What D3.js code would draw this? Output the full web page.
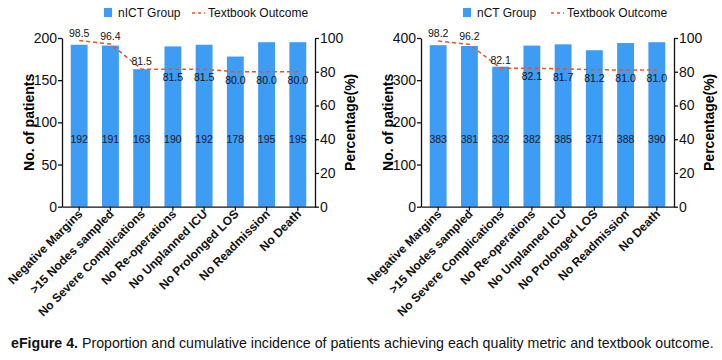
<!DOCTYPE html>
<html>
<head>
<meta charset="utf-8">
<script src="https://cdn.jsdelivr.net/npm/d3@7"></script>
<style>
  body { margin: 0; background: #fff; }
  svg { font-family: "Liberation Sans", Arial, sans-serif; }
</style>
</head>
<body>
<div class="chart"></div>
<script>
// data
var metrics = ["Negative Margins", ">15 Nodes sampled", "No Severe Complications",
  "No Re-operations", "No Unplanned ICU", "No Prolonged LOS", "No Readmission", "No Death"];

var nictCounts = [192, 191, 163, 190, 192, 178, 195, 195];
var nictPct = [98.5, 96.4, 81.5, 81.5, 81.5, 80.0, 80.0, 80.0];

var nctCounts = [383, 381, 332, 382, 385, 371, 388, 390];
var nctPct = [98.2, 96.2, 82.1, 82.1, 81.7, 81.2, 81.0, 81.0];

var countTicksLeft = [0, 50, 100, 150, 200];
var countTicksRight = [0, 100, 200, 300, 400];
var pctTicks = [0, 20, 40, 60, 80, 100];

var width = 722, height = 360;
var barColor = "#3d9cf4", lineColor = "#f0502a";

var svg = d3.select(".chart")
  .append("svg")
    .attr("width", width)
    .attr("height", height);

// one panel
function drawPanel(left, counts, pcts, countTicks, groupName) {
  var w = 253, top = 38, h = 168.7;
  var g = svg.append("g")
    .attr("transform", "translate(" + left + "," + top + ")");

  var x = d3.scaleBand()
    .domain(metrics)
    .range([0, w])
    .paddingInner(0.46)
    .paddingOuter(0.28);
  var y = d3.scaleLinear()
    .domain([0, d3.max(countTicks)])
    .range([h, 0]);
  var yP = d3.scaleLinear()
    .domain([0, 100])
    .range([h, 0]);

  // bars
  g.selectAll(".bar")
    .data(counts)
    .enter()
    .append("rect")
      .attr("class", "bar")
      .attr("x", function(d, i){ return x(metrics[i]); })
      .attr("width", x.bandwidth())
      .attr("y", function(d){ return y(d); })
      .attr("height", function(d){ return h - y(d); })
      .attr("fill", barColor);

  // count labels inside bars
  g.selectAll(".clab")
    .data(counts)
    .enter()
    .append("text")
      .attr("x", function(d, i){ return x(metrics[i]) + x.bandwidth() / 2; })
      .attr("y", yP(40) + 4)
      .attr("text-anchor", "middle")
      .attr("font-size", "10.5px")
      .attr("fill", "#1a1a2e")
      .text(function(d){ return d; });

  // percentage line
  var line = d3.line()
    .x(function(d, i){ return x(metrics[i]) + x.bandwidth() / 2; })
    .y(function(d){ return yP(d); });
  g.append("path")
    .datum(pcts)
    .attr("d", line)
    .attr("fill", "none")
    .attr("stroke", lineColor)
    .attr("stroke-width", 1.5)
    .attr("stroke-dasharray", "4,3");

  g.selectAll(".plab")
    .data(pcts)
    .enter()
    .append("text")
      .attr("x", function(d, i){ return x(metrics[i]) + x.bandwidth() / 2; })
      .attr("y", function(d, i){ return i < 3 ? yP(d) - 4 : yP(d) + 12; })
      .attr("text-anchor", "middle")
      .attr("font-size", "10.5px")
      .attr("fill", "#111")
      .text(function(d){ return d.toFixed(1); });

  // axes
  var xAxis = g.append("g")
    .attr("transform", "translate(0," + h + ")")
    .call(d3.axisBottom(x).tickSize(4).tickSizeOuter(0));
  xAxis.selectAll("text")
    .attr("font-size", "12px")
    .attr("font-weight", "bold")
    .attr("fill", "#111")
    .attr("text-anchor", "end")
    .attr("x", 0)
    .attr("y", 0)
    .attr("dy", 0)
    .attr("transform", "translate(4,8) rotate(-45)");

  var yAxis = g.append("g")
    .call(d3.axisLeft(y).tickValues(countTicks).tickSize(4).tickPadding(1).tickSizeOuter(0));
  yAxis.selectAll("text").attr("font-size", "14px").attr("fill", "#111");

  var yAxisR = g.append("g")
    .attr("transform", "translate(" + w + ",0)")
    .call(d3.axisRight(yP).tickValues(pctTicks).tickSize(4).tickPadding(1).tickSizeOuter(0));
  yAxisR.selectAll("text").attr("font-size", "14px").attr("fill", "#111");

  [xAxis, yAxis, yAxisR].forEach(function(a){
    a.selectAll("path, line").attr("stroke", "#111").attr("stroke-width", 1.3);
  });

  // axis titles
  g.append("text")
    .attr("transform", "rotate(-90)")
    .attr("x", -h / 2)
    .attr("y", -28)
    .attr("text-anchor", "middle")
    .attr("font-size", "14px")
    .attr("font-weight", "bold")
    .text("No. of patients");
  g.append("text")
    .attr("transform", "rotate(-90)")
    .attr("x", -h / 2)
    .attr("y", w + 40)
    .attr("text-anchor", "middle")
    .attr("font-size", "14px")
    .attr("font-weight", "bold")
    .text("Percentage(%)");

  // legend
  var lg = g.append("g").attr("transform", "translate(42," + (-30) + ")");
  lg.append("rect")
    .attr("x", 0).attr("y", 0)
    .attr("width", 8).attr("height", 9)
    .attr("fill", barColor);
  lg.append("text")
    .attr("x", 14).attr("y", 9)
    .attr("font-size", "12px")
    .attr("fill", "#111")
    .text(groupName);
  lg.append("line")
    .attr("x1", 88).attr("x2", 101)
    .attr("y1", 5).attr("y2", 5)
    .attr("stroke", lineColor)
    .attr("stroke-width", 1.5)
    .attr("stroke-dasharray", "3,3");
  lg.append("text")
    .attr("x", 104).attr("y", 9)
    .attr("font-size", "12px")
    .attr("fill", "#111")
    .text("Textbook Outcome");
}

drawPanel(62, nictCounts, nictPct, countTicksLeft, "nICT Group");
drawPanel(421, nctCounts, nctPct, countTicksRight, "nCT Group");

// caption
var cap = svg.append("text")
  .attr("x", 11)
  .attr("y", 348)
  .attr("font-size", "14.2px")
  .attr("fill", "#111");
cap.append("tspan").attr("font-weight", "bold").text("eFigure 4.");
cap.append("tspan").text(" Proportion and cumulative incidence of patients achieving each quality metric and textbook outcome.");
</script>
</body>
</html>
